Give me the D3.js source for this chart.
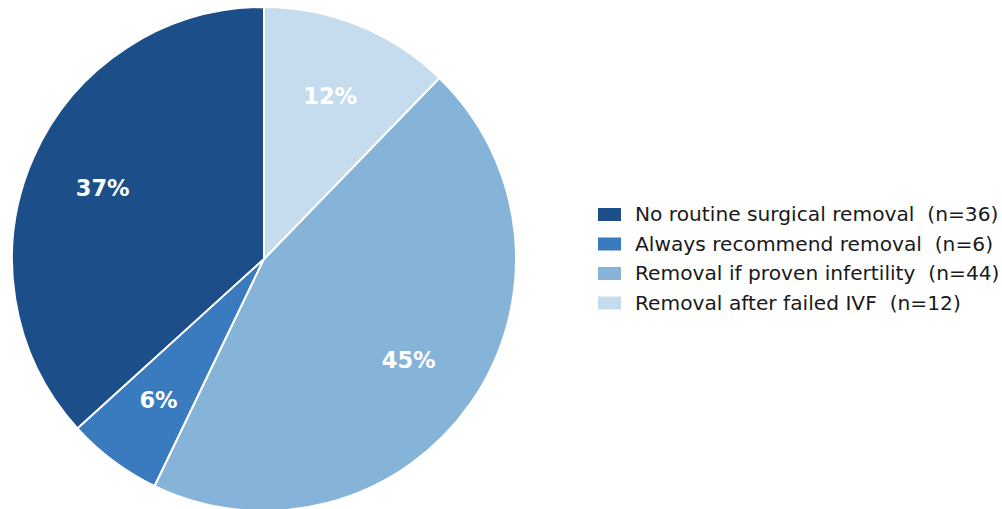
<!DOCTYPE html>
<html>
<head>
<meta charset="utf-8">
<script src="https://cdn.jsdelivr.net/npm/d3@7"></script>
<style>
  body { margin: 0; background: #fff; }
  svg text { font-family: "DejaVu Sans", sans-serif; white-space: pre; }
</style>
</head>
<body>
<svg id="chart" width="1002" height="509"></svg>
<script>
const categories = ['No routine surgical removal', 'Always recommend removal', 'Removal if proven infertility', 'Removal after failed IVF']
const counts = [36, 6, 44, 12]
const colors = ['#1c4f89', '#3a7bbf', '#86b4d8', '#c5dcee']

const svg = d3.select('#chart')
const cx = 264, cy = 259, radius = 252

const total = d3.sum(counts)
const data = categories.map((c, i) => ({ name: c, value: counts[i], color: colors[i] }))

// counter-clockwise from the top, like matplotlib startangle=90
const pie = d3.pie()
  .sort(null)
  .value(d => d.value)
  .startAngle(0)
  .endAngle(-2 * Math.PI)

const arc = d3.arc().innerRadius(0).outerRadius(radius)
const labelArc = d3.arc().innerRadius(radius * 0.7).outerRadius(radius * 0.7)

const g = svg.append('g').attr('transform', `translate(${cx},${cy})`)

g.selectAll('path')
  .data(pie(data))
  .enter().append('path')
  .attr('d', arc)
  .attr('fill', d => d.data.color)
  .attr('stroke', '#fff')
  .attr('stroke-width', 2)
  .attr('stroke-linejoin', 'round')

g.selectAll('text.pct')
  .data(pie(data))
  .enter().append('text')
  .attr('class', 'pct')
  .attr('transform', d => `translate(${labelArc.centroid(d)})`)
  .attr('text-anchor', 'middle')
  .attr('dy', '0.36em')
  .style('font-weight', 'bold')
  .style('font-size', '22.5px')
  .attr('fill', '#fff')
  .text(d => Math.round(d.data.value / total * 100) + '%')

// legend
const legend = svg.append('g').attr('transform', 'translate(598,214)')
const rowH = 29.5

const rows = legend.selectAll('g')
  .data(data)
  .enter().append('g')
  .attr('transform', (d, i) => `translate(0,${i * rowH})`)

rows.append('rect')
  .attr('x', 0)
  .attr('y', -6)
  .attr('width', 23)
  .attr('height', 13)
  .attr('fill', d => d.color)

rows.append('text')
  .attr('x', 37)
  .attr('y', 0)
  .attr('dy', '0.35em')
  .style('font-size', '20.2px')
  .attr('fill', '#1a1a1a')
  .text(d => `${d.name}  (n=${d.value})`)
</script>
</body>
</html>
